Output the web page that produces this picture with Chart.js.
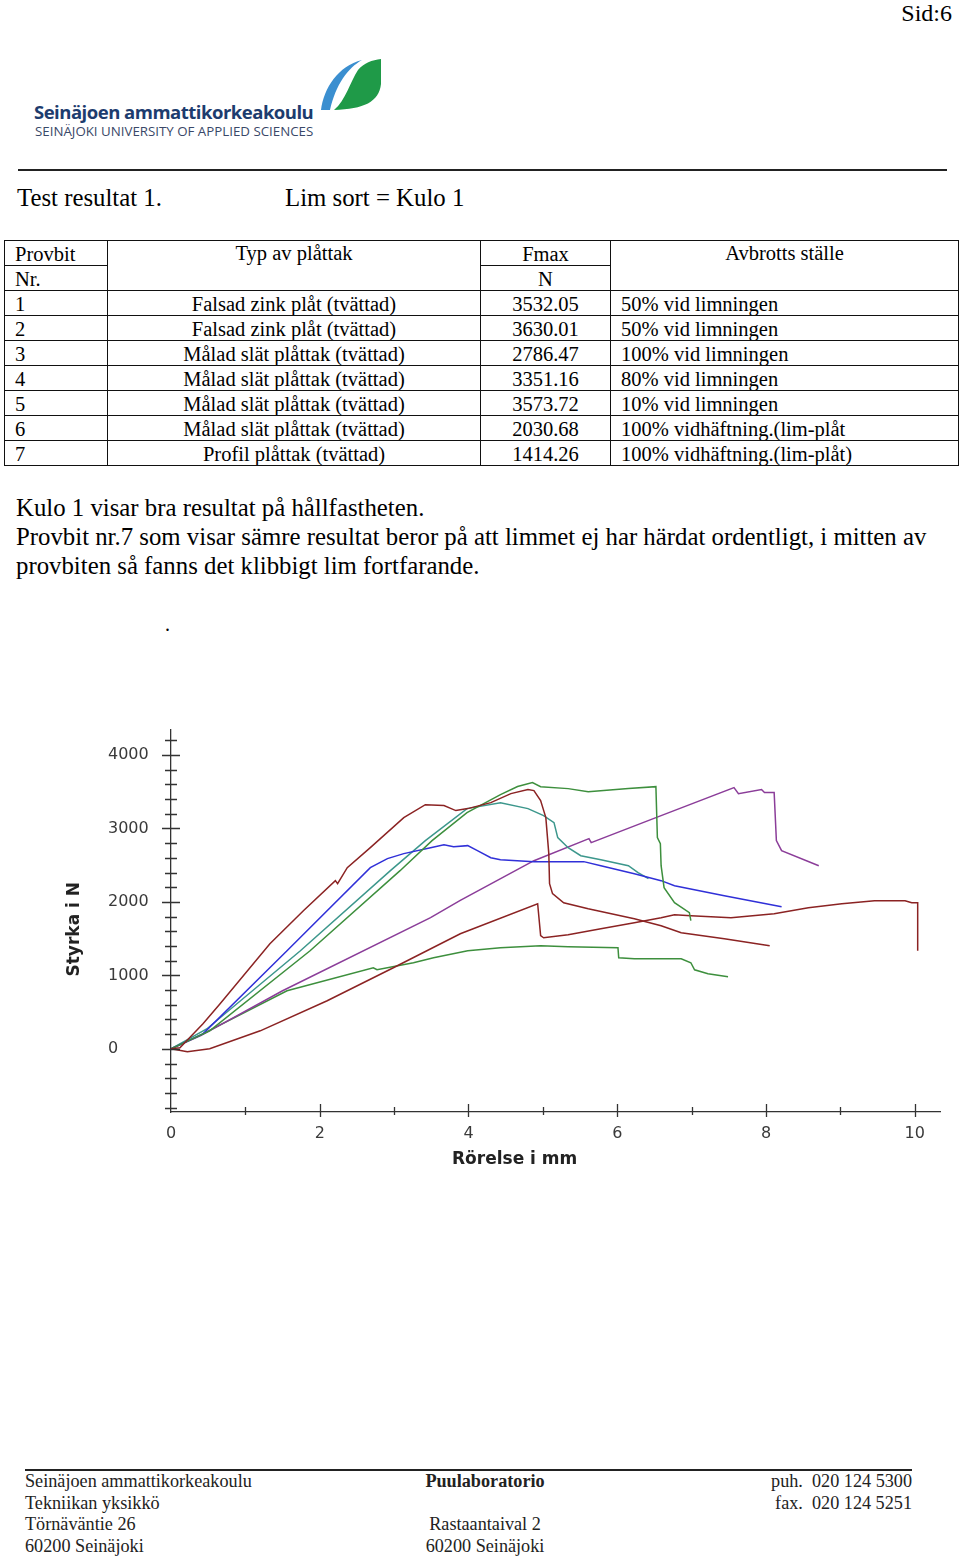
<!DOCTYPE html>
<html>

<head>
    <meta charset="UTF-8">
    <title>Test resultat 1 - Kulo 1</title>
    <script src="https://cdn.jsdelivr.net/npm/chart.js"></script>
    <style>
        body {
            margin: 0;
            width: 960px;
            height: 1560px;
            position: relative;
            background: #fff;
            font-family: "Liberation Serif", "Times New Roman", serif;
            color: #000;
        }

        .abs {
            position: absolute;
            white-space: nowrap;
        }

        .rule {
            position: absolute;
            height: 2px;
            background: #222;
        }

        /* result table */
        #results {
            position: absolute;
            left: 4px;
            top: 240px;
            width: 954px;
            border-collapse: collapse;
            table-layout: fixed;
            font-size: 20.5px;
        }

        #results tr {
            height: 25px;
        }

        #results td {
            border: 1.5px solid #111;
            padding: 1px 0 0 0;
            line-height: 22px;
            white-space: nowrap;
            overflow: hidden;
        }

        #results .l { text-align: left; padding-left: 10px; }
        #results .c { text-align: center; }
        #results .top { vertical-align: top; }

        .para {
            left: 16px;
            top: 493px;
            font-size: 24.8px;
            line-height: 29px;
            white-space: normal;
            width: 935px;
        }

        .footer {
            top: 1471px;
            font-size: 18.2px;
            line-height: 21.7px;
            color: #222;
        }

        #chartBox {
            position: absolute;
            left: 40px;
            top: 720px;
        }

        .axisTitle {
            font-family: "DejaVu Sans", sans-serif;
            font-weight: bold;
            font-size: 17px;
            line-height: 20px;
            color: #222;
        }
    </style>
</head>

<body>
    <div class="abs" style="right:8px; top:0; font-size:24px; line-height:26px;">Sid:6</div>

    <!-- logo -->
    <svg class="abs" style="left:318px; top:56px;" width="64" height="56" viewBox="0 0 64 56">
        <path d="M3 54 C 6 32, 20 10, 44 4 C 30 12, 18 28, 12 54 Z" fill="#3b8fd0"/>
        <path d="M63 3 L 63 28 C 61 46, 46 53, 16 54 C 28 44, 32 26, 40 14 C 46 7, 54 4, 63 3 Z" fill="#1f9a48"/>
    </svg>
    <div class="abs" style="left:34px; top:99px; font-family:'Open Sans', sans-serif; font-weight:700; font-size:18.5px; line-height:26px; color:#1d3c6e; letter-spacing:-0.5px;">Seinäjoen ammattikorkeakoulu</div>
    <div class="abs" style="left:35px; top:122px; font-family:'Open Sans', sans-serif; font-size:13.3px; line-height:18px; color:#3a4868;">SEINÄJOKI UNIVERSITY OF APPLIED SCIENCES</div>

    <div class="rule" style="left:18px; top:169px; width:929px;"></div>

    <div class="abs" style="left:17px; top:184px; font-size:24.8px; line-height:28px;">Test resultat 1.</div>
    <div class="abs" style="left:285px; top:184px; font-size:24.8px; line-height:28px;">Lim sort = Kulo 1</div>

    <table id="results">
        <colgroup>
            <col style="width:103px">
            <col style="width:373px">
            <col style="width:130px">
            <col style="width:348px">
        </colgroup>
        <tr>
            <td class="l">Provbit</td>
            <td class="c top" rowspan="2">Typ av plåttak</td>
            <td class="c">Fmax</td>
            <td class="c top" rowspan="2">Avbrotts ställe</td>
        </tr>
        <tr>
            <td class="l">Nr.</td>
            <td class="c">N</td>
        </tr>
        <tr><td class="l">1</td><td class="c">Falsad zink plåt (tvättad)</td><td class="c">3532.05</td><td class="l">50% vid limningen</td></tr>
        <tr><td class="l">2</td><td class="c">Falsad zink plåt (tvättad)</td><td class="c">3630.01</td><td class="l">50% vid limningen</td></tr>
        <tr><td class="l">3</td><td class="c">Målad slät plåttak (tvättad)</td><td class="c">2786.47</td><td class="l">100% vid limningen</td></tr>
        <tr><td class="l">4</td><td class="c">Målad slät plåttak (tvättad)</td><td class="c">3351.16</td><td class="l">80% vid limningen</td></tr>
        <tr><td class="l">5</td><td class="c">Målad slät plåttak (tvättad)</td><td class="c">3573.72</td><td class="l">10% vid limningen</td></tr>
        <tr><td class="l">6</td><td class="c">Målad slät plåttak (tvättad)</td><td class="c">2030.68</td><td class="l">100% vidhäftning.(lim-plåt</td></tr>
        <tr><td class="l">7</td><td class="c">Profil plåttak (tvättad)</td><td class="c">1414.26</td><td class="l">100% vidhäftning.(lim-plåt)</td></tr>
    </table>

    <div class="abs para">Kulo 1 visar bra resultat på hållfastheten.<br>Provbit nr.7 som visar sämre resultat beror på att limmet ej har härdat ordentligt, i mitten av provbiten så fanns det klibbigt lim fortfarande.</div>
    <div class="abs" style="left:165px; top:612px; font-size:20px; line-height:24px;">.</div>

    <div id="chartBox">
        <canvas id="forceChart" width="905" height="452"></canvas>
    </div>
    <!-- axis titles -->
    <div class="abs axisTitle" style="left:63px; top:909px; transform:rotate(-90deg); transform-origin:10px 10px; width:0;"><span style="position:absolute; right:-47px; top:0;">Styrka i N</span></div>
    <div class="abs axisTitle" style="left:452px; top:1148px;">Rörelse i mm</div>

    <!-- footer -->
    <div class="rule" style="left:25px; top:1469px; width:887px;"></div>
    <div class="abs footer" style="left:25px;">Seinäjoen ammattikorkeakoulu<br>Tekniikan yksikkö<br>Törnäväntie 26<br>60200 Seinäjoki</div>
    <div class="abs footer" style="left:385px; width:200px; text-align:center;"><b>Puulaboratorio</b><br>&nbsp;<br>Rastaantaival 2<br>60200 Seinäjoki</div>
    <div class="abs footer" style="right:48px; text-align:right; white-space:pre;">puh.  020 124 5300
fax.  020 124 5251</div>

    <script>
        // axis tick labels
        var yTickLabels = [0, 1000, 2000, 3000, 4000];
        var xTickLabels = [0, 2, 4, 6, 8, 10];

        // Provbit 1 - Falsad zink plåt
        var prov1X = [0, 0.12, 0.43, 0.66, 1.33, 1.78, 2.21, 2.24, 2.37, 2.68, 3.13, 3.42, 3.67, 3.83, 3.99, 4.30, 4.57, 4.80, 4.88, 4.97, 5.04, 5.08, 5.09, 5.13, 5.28, 5.61, 6.23, 6.59, 6.86, 7.44, 8.05];
        var prov1Y = [0, 14, 340, 613, 1430, 1880, 2289, 2248, 2466, 2738, 3147, 3324, 3311, 3243, 3270, 3351, 3474, 3529, 3515, 3379, 3147, 2657, 2248, 2112, 1989, 1907, 1771, 1676, 1580, 1499, 1403];

        // Provbit 2 - Falsad zink plåt
        var prov2X = [0, 0.52, 1.87, 3.08, 3.51, 3.98, 4.43, 4.66, 4.86, 4.97, 5.34, 5.61, 6.15, 6.52, 6.54, 6.58, 6.59, 6.63, 6.77, 6.97, 6.99];
        var prov2Y = [0, 245, 1335, 2425, 2834, 3215, 3460, 3570, 3624, 3569, 3542, 3501, 3542, 3569, 2875, 2793, 2493, 2193, 1989, 1853, 1744];

        // Provbit 3 - Målad slät plåttak
        var prov3X = [0, 0.43, 1.56, 2.68, 2.91, 3.13, 3.49, 3.67, 3.80, 3.99, 4.12, 4.30, 4.43, 4.88, 5.55, 5.78, 6.23, 6.59, 6.77, 7.44, 8.21];
        var prov3Y = [0, 204, 1335, 2466, 2589, 2657, 2738, 2779, 2752, 2766, 2698, 2602, 2575, 2548, 2548, 2493, 2384, 2289, 2221, 2084, 1935];

        // Provbit 4 - Målad slät plåttak
        var prov4X = [0, 0.48, 1.74, 2.95, 3.42, 3.98, 4.43, 4.80, 5.01, 5.15, 5.20, 5.34, 5.51, 5.78, 6.15, 6.28, 6.42];
        var prov4Y = [0, 270, 1335, 2425, 2834, 3270, 3351, 3270, 3174, 3079, 2875, 2738, 2629, 2575, 2493, 2398, 2316];

        // Provbit 5 - Målad slät plåttak
        var prov5X = [0, 0.40, 1.50, 3.49, 3.89, 4.88, 5.62, 5.65, 6.59, 7.57, 7.63, 7.94, 7.98, 8.11, 8.14, 8.21, 8.71];
        var prov5Y = [0, 180, 790, 1785, 2020, 2561, 2861, 2807, 3174, 3556, 3474, 3529, 3488, 3488, 2834, 2698, 2493];

        // Provbit 6 - Målad slät plåttak
        var prov6X = [0, 0.22, 0.52, 1.20, 2.10, 2.99, 3.89, 4.93, 4.97, 5.01, 5.34, 5.78, 6.23, 6.59, 6.77, 6.99, 7.53, 8.11, 8.57, 9.02, 9.46, 9.87, 9.96, 10.04, 10.04];
        var prov6Y = [0, -40, 0, 245, 654, 1104, 1567, 1975, 1540, 1512, 1553, 1635, 1717, 1785, 1826, 1812, 1785, 1839, 1921, 1975, 2016, 2016, 1989, 1989, 1335];

        // Provbit 7 - Profil plåttak
        var prov7X = [0, 0.40, 1.56, 2.72, 2.77, 3.26, 3.53, 3.99, 4.43, 4.97, 5.34, 6.01, 6.02, 6.23, 6.86, 6.99, 7.04, 7.22, 7.49];
        var prov7Y = [0, 190, 790, 1104, 1076, 1172, 1240, 1335, 1376, 1403, 1390, 1376, 1240, 1226, 1226, 1172, 1076, 1022, 981];

        var seriesColors = ['#8b2323', '#3d8f3d', '#3030d8', '#3c978c', '#8b3d99', '#8b2323', '#3d8f3d'];

        function toPoints(xs, ys) {
            var pts = [];
            for (var i = 0; i < xs.length; i++) {
                pts.push({ x: xs[i], y: ys[i] });
            }
            return pts;
        }

        var allSeries = [
            [prov1X, prov1Y], [prov2X, prov2Y], [prov3X, prov3Y], [prov4X, prov4Y],
            [prov5X, prov5Y], [prov6X, prov6Y], [prov7X, prov7Y]
        ];

        var datasets = allSeries.map(function (s, i) {
            return {
                label: 'Provbit ' + (i + 1),
                data: toPoints(s[0], s[1]),
                borderColor: seriesColors[i],
                borderWidth: 1.5,
                pointRadius: 0,
                showLine: true,
                tension: 0,
                fill: false
            };
        });

        // tick marks that cross the axis line, positioned by the scales
        var crossTicks = {
            id: 'crossTicks',
            afterDraw: function (chart) {
                var ctx = chart.ctx;
                var xs = chart.scales.x;
                var ys = chart.scales.y;
                var axisX = chart.chartArea.left;
                var axisY = chart.chartArea.bottom;
                ctx.save();
                ctx.strokeStyle = '#333';
                ctx.lineWidth = 1.3;
                ctx.beginPath();
                for (var v = -800; v <= 4200; v += 200) {
                    var py = Math.round(ys.getPixelForValue(v)) + 0.5;
                    var half = (v % 1000 === 0) ? 9 : 6;
                    ctx.moveTo(axisX - half, py);
                    ctx.lineTo(axisX + half, py);
                }
                for (var m = 1; m <= 10; m++) {
                    var px = Math.round(xs.getPixelForValue(m)) + 0.5;
                    var up = (m % 2 === 0) ? 8 : 5;
                    var down = (m % 2 === 0) ? 5 : 3;
                    ctx.moveTo(px, axisY - up);
                    ctx.lineTo(px, axisY + down);
                }
                ctx.stroke();
                ctx.restore();
            }
        };

        var forceCtx = document.getElementById('forceChart').getContext('2d');
        var forceChart = new Chart(forceCtx, {
            type: 'scatter',
            data: { datasets: datasets },
            plugins: [crossTicks],
            options: {
                responsive: false,
                animation: false,
                devicePixelRatio: 1,
                layout: { padding: { top: 10, right: 5, left: 68, bottom: 0 } },
                plugins: {
                    legend: { display: false },
                    tooltip: { enabled: false }
                },
                scales: {
                    x: {
                        type: 'linear',
                        min: 0,
                        max: 10.34,
                        afterFit: function (scale) {
                            scale.height = 60;
                            scale.paddingLeft = 0;
                            scale.paddingRight = 0;
                        },
                        afterBuildTicks: function (scale) {
                            scale.ticks = xTickLabels.map(function (v) { return { value: v }; });
                        },
                        grid: { display: false, drawTicks: true, tickLength: 6 },
                        border: { display: true, color: '#333', width: 1.3 },
                        ticks: {
                            autoSkip: false,
                            maxRotation: 0,
                            padding: 6,
                            color: '#3a3a3a',
                            font: { family: 'DejaVu Sans', size: 16 },
                            callback: function (value) { return String(value); }
                        }
                    },
                    y: {
                        type: 'linear',
                        min: -860,
                        max: 4340,
                        afterFit: function (scale) {
                            scale.width = 63;
                            scale.paddingTop = 0;
                            scale.paddingBottom = 0;
                        },
                        afterBuildTicks: function (scale) {
                            scale.ticks = yTickLabels.map(function (v) { return { value: v }; });
                        },
                        grid: { display: false, drawTicks: true, tickLength: 10 },
                        border: { display: true, color: '#333', width: 1.3 },
                        ticks: {
                            autoSkip: false,
                            crossAlign: 'far',
                            padding: 12,
                            color: '#3a3a3a',
                            font: { family: 'DejaVu Sans', size: 16 },
                            callback: function (value) { return String(value); }
                        }
                    }
                }
            }
        });
    </script>
</body>

</html>
